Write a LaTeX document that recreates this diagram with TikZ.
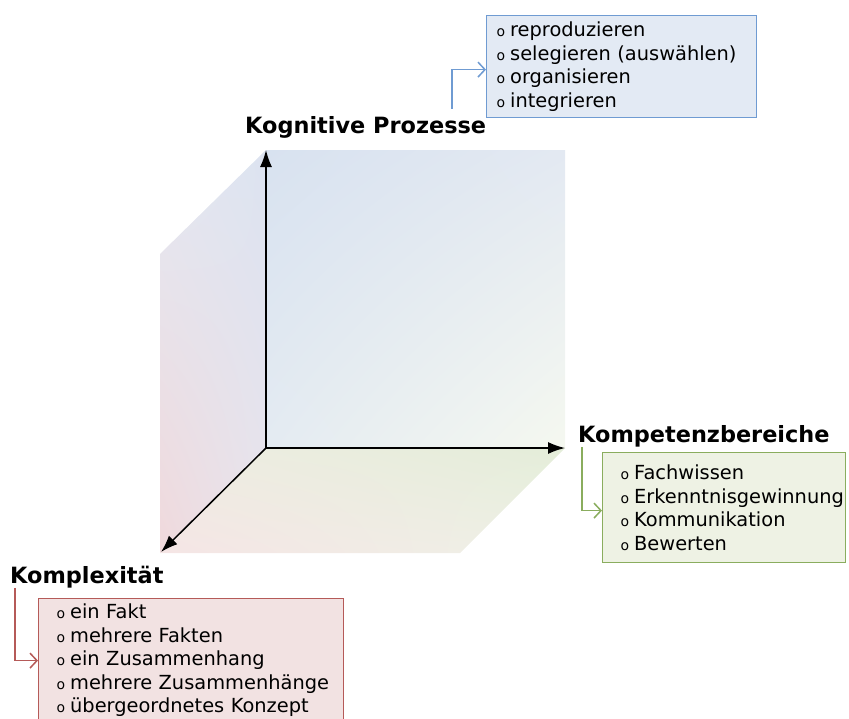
\documentclass[tikz,border=0pt]{standalone}
\usepackage{fontspec}
\setmainfont{DejaVu Sans}
\usetikzlibrary{arrows.meta,shadings}

\definecolor{kpline}{HTML}{6F9BD2}
\definecolor{kpfill}{HTML}{E3EAF4}
\definecolor{kbline}{HTML}{8AAD5E}
\definecolor{kbfill}{HTML}{EEF2E4}
\definecolor{kxline}{HTML}{B55A58}
\definecolor{kxfill}{HTML}{F2E2E2}

% cube colours
\definecolor{backul}{HTML}{D8E2F0}
\definecolor{backur}{HTML}{E3E9F2}
\definecolor{backll}{HTML}{E4EBF2}
\definecolor{backlr}{HTML}{F5F8F0}
\definecolor{leftul}{HTML}{E4E8F2}
\definecolor{leftur}{HTML}{DCE3F0}
\definecolor{leftll}{HTML}{F0D9DC}
\definecolor{leftlr}{HTML}{E9E4EC}
\definecolor{botul}{HTML}{EEEDE2}
\definecolor{botur}{HTML}{E4EDD9}
\definecolor{botll}{HTML}{F5E5E5}
\definecolor{botlr}{HTML}{EEF1E6}

\newcommand{\itm}[1]{\mbox{{\fontsize{14}{14}\selectfont o}\hspace{5pt}#1}}

\begin{document}
\begin{tikzpicture}[x=1pt, y=-1pt,
    axisarrow/.style={line width=1.5pt, -{Latex[length=17pt,width=12pt]}},
    axislabel/.style={font=\fontsize{22.4}{22.4}\selectfont\bfseries, inner sep=0pt, anchor=base west},
    listbox/.style={draw, line width=1.2pt, anchor=north west, align=left,
        font=\fontsize{19.4}{23.5}\selectfont, inner ysep=0pt},
    link/.style={line width=1.5pt, -{Straight Barb[length=7pt,width=15pt]}}]
    \useasboundingbox (0,0) rectangle (849,718);

    % Faces of the cube
    \shade[upper left=backul, upper right=backur, lower left=backll, lower right=backlr]
        (266,150) rectangle (565,448);
    \shade[upper left=leftul, upper right=leftur, lower left=leftll, lower right=leftlr]
        (266,150) -- (266,448) -- (160,553) -- (160,254) -- cycle;
    \shade[upper left=botul, upper right=botur, lower left=botll, lower right=botlr]
        (266,448) -- (565,448) -- (460,553) -- (160,553) -- cycle;

    % Axes
    \coordinate (o) at (266,448);
    \coordinate (top) at (266,150);
    \coordinate (right) at (565,448);
    \coordinate (front) at (161,552);
    \draw[axisarrow] (o) -- (top);
    \draw[axisarrow] (o) -- (right);
    \draw[axisarrow] (o) -- (front);

    % Axis labels
    \node[axislabel] (kp) at (245,133) {Kognitive Prozesse};
    \node[axislabel] (kb) at (578,442) {Kompetenzbereiche};
    \node[axislabel] (kx) at (10,583) {Komplexität};

    % Lists
    \node[listbox, draw=kpline, fill=kpfill, inner xsep=10pt, text width=250pt,
          minimum height=102pt] (kpbox) at (486,15)
        {\itm{reproduzieren}\\\itm{selegieren (auswählen)}\\\itm{organisieren}\\\itm{integrieren}};
    \node[listbox, draw=kbline, fill=kbfill, inner xsep=18pt, text width=207pt,
          minimum height=110pt] (kbbox) at (602,452)
        {\itm{Fachwissen}\\\itm{Erkenntnisgewinnung}\\\itm{Kommunikation}\\\itm{Bewerten}};
    \node[listbox, draw=kxline, fill=kxfill, inner xsep=18pt, text width=269pt,
          minimum height=124pt] (kxbox) at (38,598)
        {\itm{ein Fakt}\\\itm{mehrere Fakten}\\\itm{ein Zusammenhang}\\\itm{mehrere Zusammenhänge}\\\itm{übergeordnetes Konzept}};

    % Links
    \draw[link, kpline] ([xshift=207pt,yshift=7pt]kp.north west) |- ([yshift=-3pt]kpbox.west);
    \draw[link, kbline] ([xshift=4pt]kb.south west) |- ([yshift=-3pt]kbbox.west);
    \draw[link, kxline] ([xshift=5pt]kx.south west) |- (kxbox.west);
\end{tikzpicture}
\end{document}
